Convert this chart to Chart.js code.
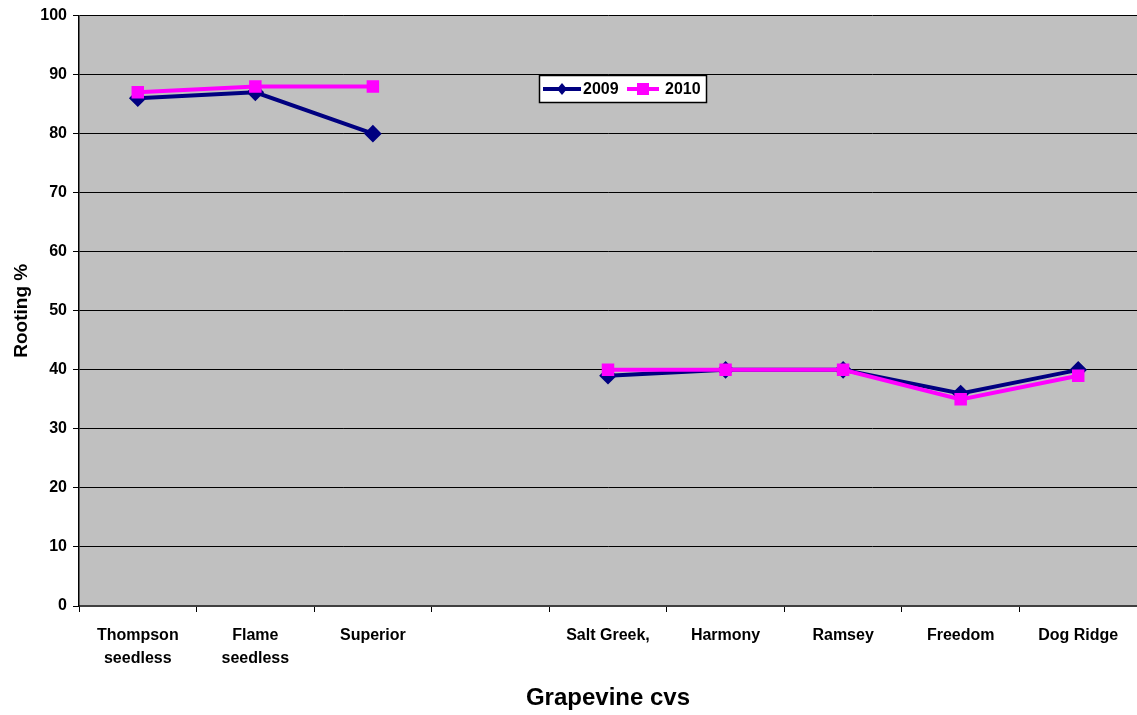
<!DOCTYPE html>
<html>
<head>
<meta charset="utf-8">
<script src="https://cdn.jsdelivr.net/npm/chart.js@4/dist/chart.umd.min.js"></script>
<style>
  html, body { margin: 0; padding: 0; background: #ffffff; }
  #wrap { width: 1137px; height: 715px; position: relative; }
</style>
</head>
<body>
<div id="wrap"><canvas id="c" width="1137" height="715"></canvas></div>
<script>
// Grapevine cultivars (the blank slot separates the two groups)
const categories = [
  ["Thompson", "seedless"], ["Flame", "seedless"], "Superior", "",
  "Salt Greek,", "Harmony", "Ramsey", "Freedom", "Dog Ridge"
];
// Rooting percentage per season
const rooting2009 = [86, 87, 80, null, 39, 40, 40, 36, 40];
const rooting2010 = [87, 88, 88, null, 40, 40, 40, 35, 39];
const yTicks = [0, 10, 20, 30, 40, 50, 60, 70, 80, 90, 100];

const FONT = "'Liberation Sans Narrow', 'Liberation Sans', Arial, sans-serif";
const FONT_WIDE = "'Liberation Sans', Arial, sans-serif";

// Grey plot background
const plotBg = {
  id: 'plotBg',
  beforeDraw(chart) {
    const { ctx, chartArea: a } = chart;
    ctx.save();
    ctx.fillStyle = '#c0c0c0';
    ctx.fillRect(a.left, a.top, a.right - a.left, a.bottom - a.top);
    ctx.restore();
  }
};

// Boxed legend inside the plot
const boxLegend = {
  id: 'boxLegend',
  afterDraw(chart) {
    const { ctx } = chart;
    const x = 539, y = 75, w = 168, h = 28;
    ctx.save();
    ctx.fillStyle = '#ffffff';
    ctx.fillRect(x, y, w, h);
    ctx.strokeStyle = '#000000';
    ctx.lineWidth = 1.5;
    ctx.strokeRect(x + 0.5, y + 0.5, w - 1, h - 1);
    const cy = y + h / 2;
    const slots = [{ x0: 543, x1: 581, tx: 583 }, { x0: 627, x1: 659, tx: 665 }];
    chart.data.datasets.forEach((ds, i) => {
      const s = slots[i];
      ctx.strokeStyle = ds.borderColor;
      ctx.lineWidth = 4;
      ctx.beginPath();
      ctx.moveTo(s.x0, cy);
      ctx.lineTo(s.x1, cy);
      ctx.stroke();
      ctx.fillStyle = ds.pointBackgroundColor;
      const mx = (s.x0 + s.x1) / 2;
      if (ds.pointStyle === 'rect') {
        ctx.fillRect(mx - 6, cy - 6, 12, 12);
      } else {
        ctx.beginPath();
        ctx.moveTo(mx, cy - 6);
        ctx.lineTo(mx + 5, cy);
        ctx.lineTo(mx, cy + 6);
        ctx.lineTo(mx - 5, cy);
        ctx.closePath();
        ctx.fill();
      }
      ctx.fillStyle = '#000000';
      ctx.font = 'bold 16px ' + FONT;
      ctx.textBaseline = 'middle';
      ctx.textAlign = 'left';
      ctx.fillText(ds.label, s.tx, cy + 1);
    });
    ctx.restore();
  }
};

new Chart(document.getElementById('c'), {
  type: 'line',
  data: {
    labels: categories,
    datasets: [
      {
        label: '2009',
        data: rooting2009,
        order: 1,
        borderColor: '#000080',
        backgroundColor: '#000080',
        pointBackgroundColor: '#000080',
        pointBorderColor: '#000080',
        pointStyle: 'rectRot',
        pointRadius: 6,
        borderWidth: 4,
        tension: 0,
        spanGaps: false
      },
      {
        label: '2010',
        data: rooting2010,
        order: 0,
        borderColor: '#ff00ff',
        backgroundColor: '#ff00ff',
        pointBackgroundColor: '#ff00ff',
        pointBorderColor: '#ff00ff',
        pointStyle: 'rect',
        pointRadius: 6,
        borderWidth: 4,
        tension: 0,
        spanGaps: false
      }
    ]
  },
  options: {
    responsive: false,
    animation: false,
    layout: { autoPadding: false, padding: { top: 15, right: 0, left: 0, bottom: 0 } },
    plugins: {
      legend: { display: false },
      tooltip: { enabled: false }
    },
    scales: {
      x: {
        type: 'category',
        offset: true,
        grid: {
          offset: true,
          drawOnChartArea: false,
          drawTicks: true,
          tickLength: 6,
          color: '#000000',
          lineWidth: 1
        },
        border: { color: '#404040', width: 2 },
        ticks: {
          color: '#000000',
          font: { family: FONT, size: 16, weight: 'bold', lineHeight: 1.45 },
          padding: 12,
          maxRotation: 0,
          autoSkip: false
        },
        title: {
          display: true,
          text: 'Grapevine cvs',
          color: '#000000',
          font: { family: FONT_WIDE, size: 24, weight: 'bold' },
          padding: { top: 18, bottom: 2 }
        },
        afterFit(scale) {
          scale.height = 109;
          scale.paddingLeft = 0;
          scale.paddingRight = 0;
        }
      },
      y: {
        min: 0,
        max: 100,
        afterBuildTicks(scale) { scale.ticks = yTicks.map(v => ({ value: v })); },
        grid: {
          color: '#000000',
          lineWidth: 1,
          tickLength: 6,
          drawTicks: true
        },
        border: { color: '#000000', width: 1.5 },
        ticks: {
          color: '#000000',
          font: { family: FONT, size: 16, weight: 'bold' },
          padding: 6
        },
        title: {
          display: true,
          text: 'Rooting %',
          color: '#000000',
          font: { family: FONT_WIDE, size: 19, weight: 'bold' },
          padding: { top: 10, bottom: 0 }
        },
        afterFit(scale) { scale.width = 79; }
      }
    }
  },
  plugins: [plotBg, boxLegend]
});
</script>
</body>
</html>
